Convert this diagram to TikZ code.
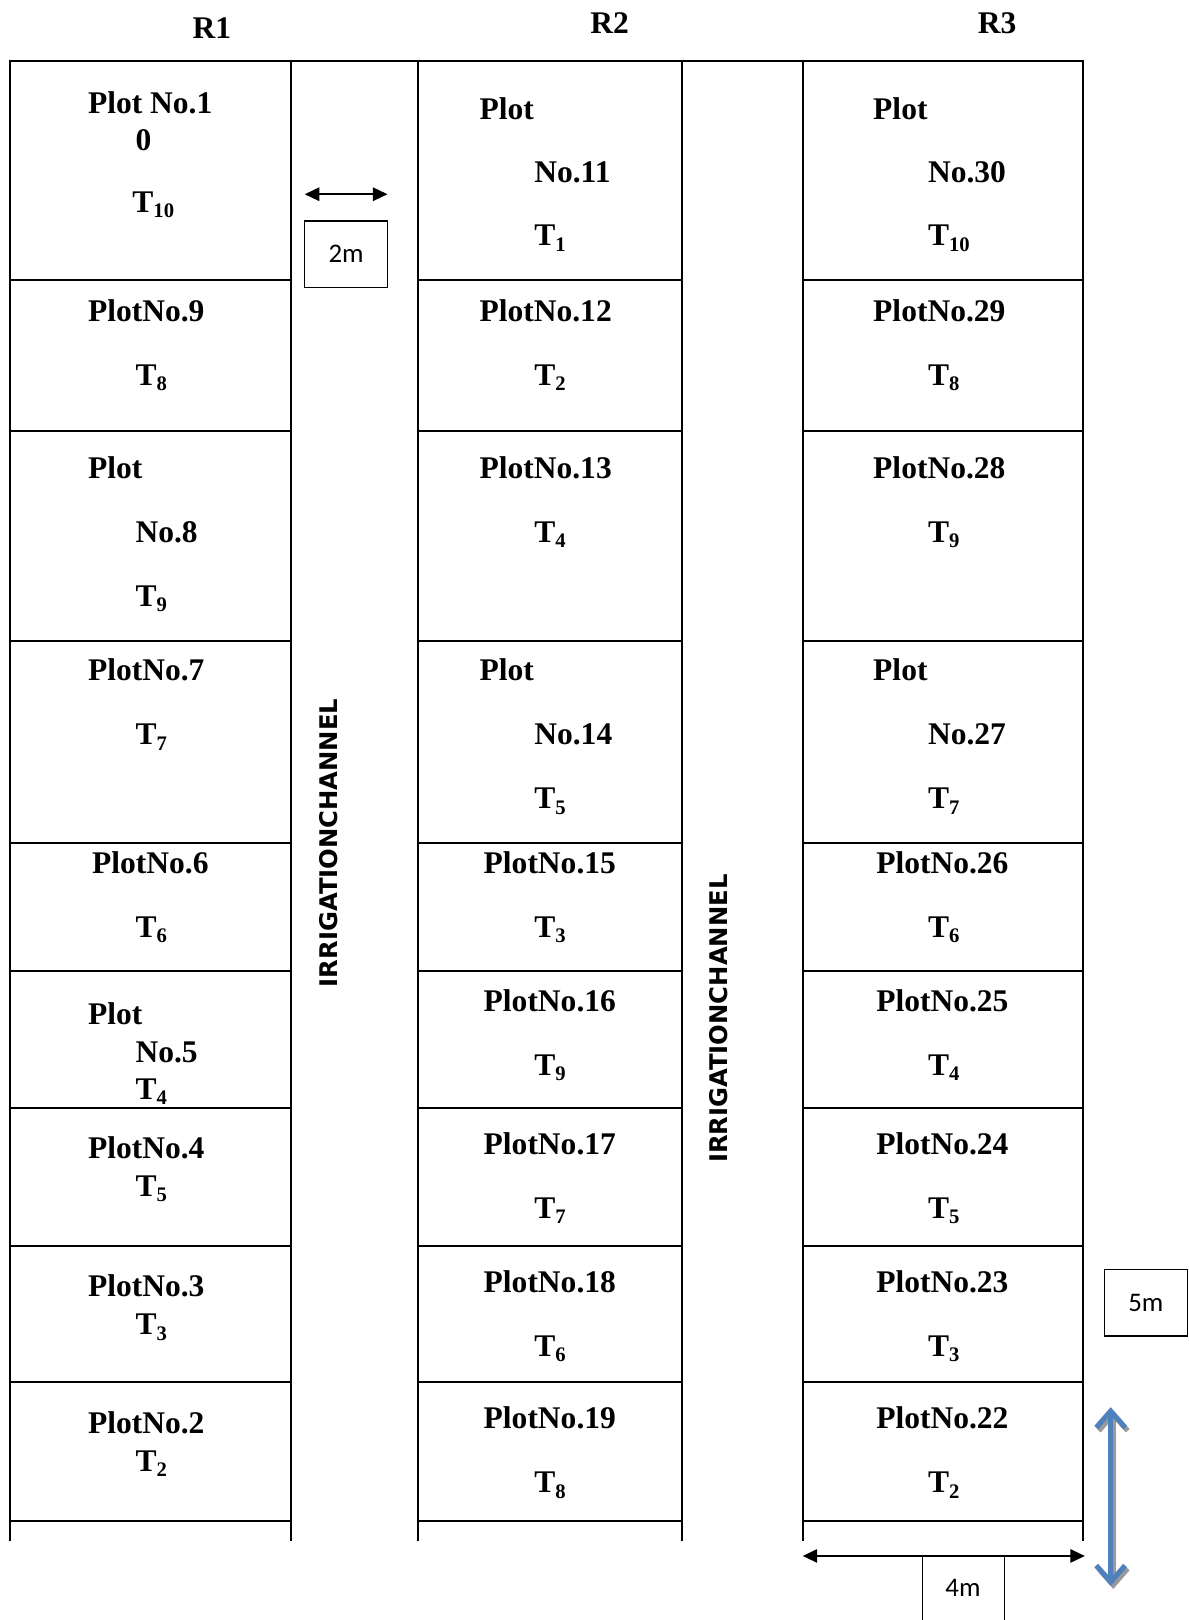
\documentclass[tikz,border=0pt]{standalone}
\usepackage{fontspec}
\setmainfont{Liberation Serif}
\newfontfamily\chanfont{DejaVu Sans}
\newfontfamily\dimfont{Carlito}
\usetikzlibrary{arrows.meta}
\definecolor{arrowblue}{HTML}{4F81BD}
\newcommand{\Tsub}[1]{T\raisebox{-5pt}{\fontsize{20}{20}\selectfont #1}}
\begin{document}
\begin{tikzpicture}[x=1pt,y=-1pt,
  gridline/.style={line width=2pt, line cap=rect},
  lbl/.style={anchor=base west, inner sep=0pt, font=\fontsize{30.5}{30.5}\selectfont\bfseries},
  hdr/.style={anchor=base, inner sep=0pt, font=\fontsize{30.5}{30.5}\selectfont\bfseries},
  chan/.style={rotate=90, inner sep=0pt, font=\chanfont\bfseries\fontsize{23.5}{23.5}\selectfont},
  dimtxt/.style={inner sep=0pt, font=\dimfont\fontsize{26}{26}\selectfont},
  dimbox/.style={draw, line width=1.2pt, minimum width=80pt, minimum height=64pt, inner sep=0pt},
  dimarrow/.style={line width=1.5pt, {Triangle[length=14pt,width=13pt]}-{Triangle[length=14pt,width=13pt]}},
  bluearrow/.style={line width=5pt, draw=arrowblue, {Straight Barb[length=16pt,width=28pt,line width=5pt]}-{Straight Barb[length=16pt,width=28pt,line width=5pt]}},
  shadowarrow/.style={line width=5pt, draw=black!40, {Straight Barb[length=16pt,width=28pt,line width=5pt]}-{Straight Barb[length=16pt,width=28pt,line width=5pt]}}
]
\useasboundingbox (0,0) rectangle (1150,1568);

% headers
\node[hdr] (r1) at (205,37) {R1};
\node[hdr] (r2) at (590,32) {R2};
\node[hdr] (r3) at (965,32) {R3};

% grid
\draw[gridline] (10,59) -- (1048,59);
\foreach \x in {10,282,405,660,777,1048} \draw[gridline] (\x,59) -- (\x,1491);
\foreach \y in {271,417,620,816,940,1072,1206,1338,1472} {
  \draw[gridline] (10,\y) -- (282,\y);
  \draw[gridline] (405,\y) -- (660,\y);
  \draw[gridline] (777,\y) -- (1048,\y);
}

% column 1
\node[lbl] (p1a) at (85,110) {Plot No.1};
\node[lbl] (p1b) at (131,146) {0};
\node[lbl] (p1c) at (128,206) {\Tsub{10}};
\node[lbl] (p9a) at (85,311) {PlotNo.9};
\node[lbl] (p9b) at (131,373) {\Tsub{8}};
\node[lbl] (p8a) at (85,463) {Plot};
\node[lbl] (p8b) at (131,525) {No.8};
\node[lbl] (p8c) at (131,587) {\Tsub{9}};
\node[lbl] (p7a) at (85,659) {PlotNo.7};
\node[lbl] (p7b) at (131,721) {\Tsub{7}};
\node[lbl] (p6a) at (89,845) {PlotNo.6};
\node[lbl] (p6b) at (131,907) {\Tsub{6}};
\node[lbl] (p5a) at (85,992) {Plot};
\node[lbl] (p5b) at (131,1028) {No.5};
\node[lbl] (p5c) at (131,1064) {\Tsub{4}};
\node[lbl] (p4a) at (85,1121) {PlotNo.4};
\node[lbl] (p4b) at (131,1158) {\Tsub{5}};
\node[lbl] (p3a) at (85,1255) {PlotNo.3};
\node[lbl] (p3b) at (131,1292) {\Tsub{3}};
\node[lbl] (p2a) at (85,1387) {PlotNo.2};
\node[lbl] (p2b) at (131,1424) {\Tsub{2}};

% column 2
\node[lbl] (p11a) at (464,116) {Plot};
\node[lbl] (p11b) at (517,177) {No.11};
\node[lbl] (p11c) at (517,238) {\Tsub{1}};
\node[lbl] (p12a) at (464,311) {PlotNo.12};
\node[lbl] (p12b) at (517,373) {\Tsub{2}};
\node[lbl] (p13a) at (464,463) {PlotNo.13};
\node[lbl] (p13b) at (517,525) {\Tsub{4}};
\node[lbl] (p14a) at (464,659) {Plot};
\node[lbl] (p14b) at (517,721) {No.14};
\node[lbl] (p14c) at (517,783) {\Tsub{5}};
\node[lbl] (p15a) at (468,845) {PlotNo.15};
\node[lbl] (p15b) at (517,907) {\Tsub{3}};
\node[lbl] (p16a) at (468,979) {PlotNo.16};
\node[lbl] (p16b) at (517,1041) {\Tsub{9}};
\node[lbl] (p17a) at (468,1117) {PlotNo.17};
\node[lbl] (p17b) at (517,1179) {\Tsub{7}};
\node[lbl] (p18a) at (468,1251) {PlotNo.18};
\node[lbl] (p18b) at (517,1313) {\Tsub{6}};
\node[lbl] (p19a) at (468,1383) {PlotNo.19};
\node[lbl] (p19b) at (517,1445) {\Tsub{8}};

% column 3
\node[lbl] (p30a) at (845,116) {Plot};
\node[lbl] (p30b) at (898,177) {No.30};
\node[lbl] (p30c) at (898,238) {\Tsub{10}};
\node[lbl] (p29a) at (845,311) {PlotNo.29};
\node[lbl] (p29b) at (898,373) {\Tsub{8}};
\node[lbl] (p28a) at (845,463) {PlotNo.28};
\node[lbl] (p28b) at (898,525) {\Tsub{9}};
\node[lbl] (p27a) at (845,659) {Plot};
\node[lbl] (p27b) at (898,721) {No.27};
\node[lbl] (p27c) at (898,783) {\Tsub{7}};
\node[lbl] (p26a) at (848,845) {PlotNo.26};
\node[lbl] (p26b) at (898,907) {\Tsub{6}};
\node[lbl] (p25a) at (848,979) {PlotNo.25};
\node[lbl] (p25b) at (898,1041) {\Tsub{4}};
\node[lbl] (p24a) at (848,1117) {PlotNo.24};
\node[lbl] (p24b) at (898,1179) {\Tsub{5}};
\node[lbl] (p23a) at (848,1251) {PlotNo.23};
\node[lbl] (p23b) at (898,1313) {\Tsub{3}};
\node[lbl] (p22a) at (848,1383) {PlotNo.22};
\node[lbl] (p22b) at (898,1445) {\Tsub{2}};

% irrigation channels
\node[chan] (ch1) at (318,816) {IRRIGATIONCHANNEL};
\node[chan] (ch2) at (696,986) {IRRIGATIONCHANNEL};

% 2m dimension
\coordinate (a2l) at (295,188);
\coordinate (a2r) at (375,188);
\draw[dimarrow] (a2l) -- (a2r);
\node[dimbox] (b2m) at (335,246) {};
\node[dimtxt] (t2m) at (b2m.center) {2m};

% 5m dimension
\node[dimbox] (b5m) at (1109,1261) {};
\node[dimtxt] (t5m) at (b5m.center) {5m};
\coordinate (a5t) at (1075,1362);
\coordinate (a5b) at (1075,1535);
\draw[shadowarrow] ([shift={(2.5,3)}]a5t) -- ([shift={(2.5,3)}]a5b);
\draw[bluearrow] (a5t) -- (a5b);

% 4m dimension
\coordinate (a4l) at (777,1506);
\coordinate (a4r) at (1050,1506);
\draw[dimarrow] (a4l) -- (a4r);
\coordinate (b4l) at (893,1506);
\coordinate (b4r) at (972,1506);
\draw[line width=1.2pt] (b4l) -- (893,1568);
\draw[line width=1.2pt] (b4r) -- (972,1568);
\node[dimtxt] (t4m) at (932,1537) {4m};
\end{tikzpicture}
\end{document}
